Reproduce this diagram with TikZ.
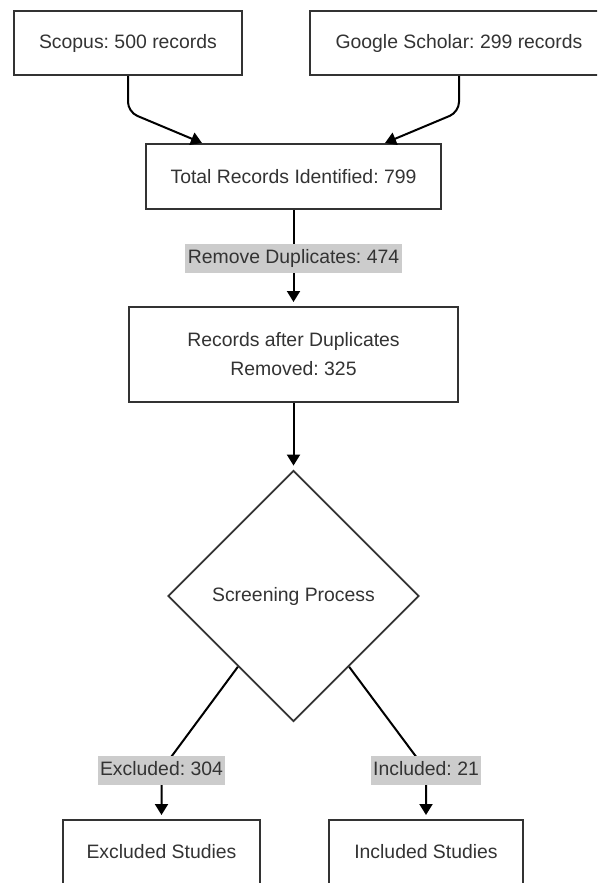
\documentclass[tikz,border=0pt]{standalone}
\usepackage{fontspec}
\setmainfont{Liberation Sans}
\usetikzlibrary{arrows.meta,shapes.geometric,calc}
\frenchspacing

\begin{document}
\begin{tikzpicture}[
  x=1pt, y=-1pt, >={Triangle[width=13pt,length=11pt]},
  every node/.style={font=\fontsize{19.4}{29}\selectfont, text=black!80},
  stage/.style={draw=black!80, line width=2pt, fill=white, align=center,
                inner sep=0pt},
  decide/.style={draw=black!80, line width=1.8pt, fill=white, diamond,
                 aspect=1, inner sep=0pt, minimum width=251pt,
                 minimum height=251pt},
  tag/.style={fill=black!20, sharp corners, inner xsep=2.5pt, inner ysep=0pt,
              minimum height=29pt, text height=14pt, text depth=4pt},
  flow/.style={->, line width=2pt, black, shorten >=4pt},
]
\useasboundingbox (0,0) rectangle (597,883);
\clip (0,0) rectangle (597,883);
\fill[white] (0,0) rectangle (597,883);

% sources
\node[stage, minimum width=228pt, minimum height=64pt] (scopus)
  at (128,43) {Scopus: 500 records};
\node[stage, minimum width=298pt, minimum height=64pt] (gscholar)
  at (459,43) {Google Scholar: 299 records};

% pipeline
\node[stage, minimum width=295pt, minimum height=65pt] (total)
  at (293.5,176.5) {Total Records Identified: 799};
\node[stage, minimum width=329pt, minimum height=95pt] (records)
  at (293.5,354.5) {Records after Duplicates\\Removed: 325};
\node[decide] (screen) at (293.5,596) {Screening Process};

% outcomes
\node[stage, minimum width=197pt, minimum height=64pt] (excl)
  at (161.5,852) {Excluded Studies};
\node[stage, minimum width=194pt, minimum height=64pt] (incl)
  at (426,852) {Included Studies};

\draw[flow, shorten >=0pt, rounded corners=10pt] (scopus.south) -- ++(0,36)
  -- ([xshift=-91.5pt]total.north);
\draw[flow, shorten >=0pt, rounded corners=10pt] (gscholar.south) -- ++(0,36)
  -- ([xshift=91.5pt]total.north);
\draw[flow] (total) -- node[tag] {Remove Duplicates: 474} (records);
\draw[flow] (records) -- (screen);
\draw[flow, rounded corners=12pt] ($(screen.west)!0.56!(screen.south)$)
  -- ([yshift=49pt]excl.north) node[tag] {Excluded: 304} -- (excl.north);
\draw[flow, rounded corners=12pt] ($(screen.east)!0.56!(screen.south)$)
  -- ([yshift=49pt]incl.north) node[tag] {Included: 21} -- (incl.north);
\end{tikzpicture}
\end{document}
